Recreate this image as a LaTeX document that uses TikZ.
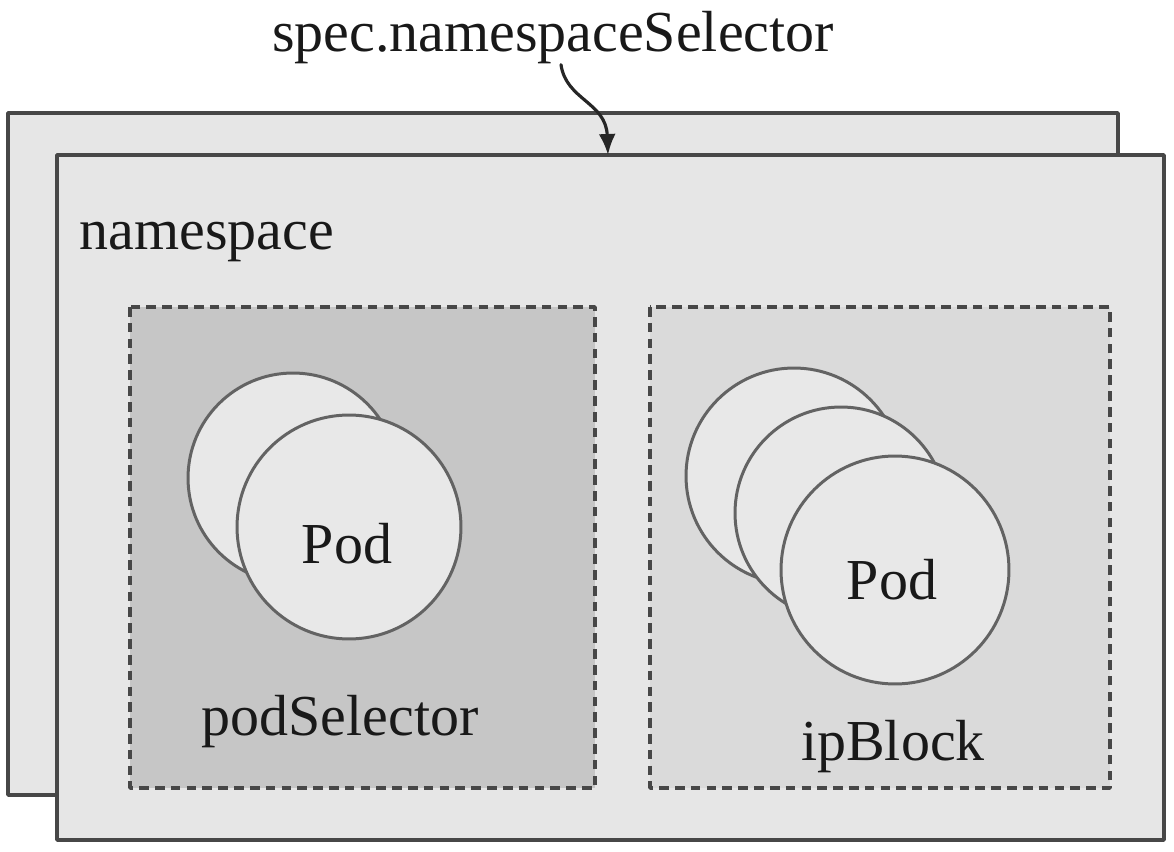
\documentclass[tikz,border=0pt]{standalone}
\usepackage{fontspec}
\setmainfont{Liberation Serif}
\usepackage{tikz}
\usetikzlibrary{shapes,arrows,arrows.meta}
\usetikzlibrary{positioning}
\definecolor{nsgray}{HTML}{E6E6E6}
\definecolor{selgray}{HTML}{C6C6C6}
\definecolor{ipgray}{HTML}{DADADA}
\definecolor{podgray}{HTML}{E8E8E8}
\definecolor{edgegray}{HTML}{474747}
\tikzstyle{every node}=[font=\fontsize{33}{40}\selectfont, text=black!90]
\tikzstyle{every path}=[line cap=round,line join=round]
\tikzstyle{nsbox}=[draw=edgegray, fill=nsgray, line width=2.1pt]
\tikzstyle{selbox}=[draw=edgegray, line width=2pt, dash pattern=on 5.5pt off 3.5pt, line cap=butt]
\tikzstyle{pod}=[circle, draw=edgegray!85, fill=podgray, line width=1.7pt, inner sep=0pt]

\begin{document}
\begin{tikzpicture}[x=0.02cm,y=-0.02cm]
\useasboundingbox (0,0) rectangle (1174,852);

\draw [nsbox] (8,113) rectangle (1118,795);
\draw [nsbox] (57,155) rectangle (1164,840);
\coordinate (nstop) at (608,155);
\node (ns) at (207,242) {namespace};

\draw [selbox, fill=selgray] (130,307) rectangle (595,788);
\draw [selbox, fill=ipgray] (650,307) rectangle (1110,788);

\node [pod, minimum size=4.2cm] (podA) at (293,478) {};
\node [pod, minimum size=4.48cm] (podB) at (349,527) {};
\node (podtxtB) at (347,544) {Pod};
\node (sel) at (340,722) {podSelector};

\node [pod, minimum size=4.32cm] (podC) at (794,476) {};
\node [pod, minimum size=4.24cm] (podD) at (841,513) {};
\node [pod, minimum size=4.56cm] (podE) at (895,570) {};
\node (podtxtE) at (892,580) {Pod};
\node (ip) at (893,747) {ipBlock};

\node [inner sep=0pt] (title) at (553,38) {spec.namespaceSelector};
\draw [-{Latex[length=0.42cm,width=0.34cm]}, line width=1.8pt, draw=black!85] ([xshift=0.16cm]title.south) .. controls (566,100) and (606,102) .. (nstop);
\end{tikzpicture}
\end{document}
